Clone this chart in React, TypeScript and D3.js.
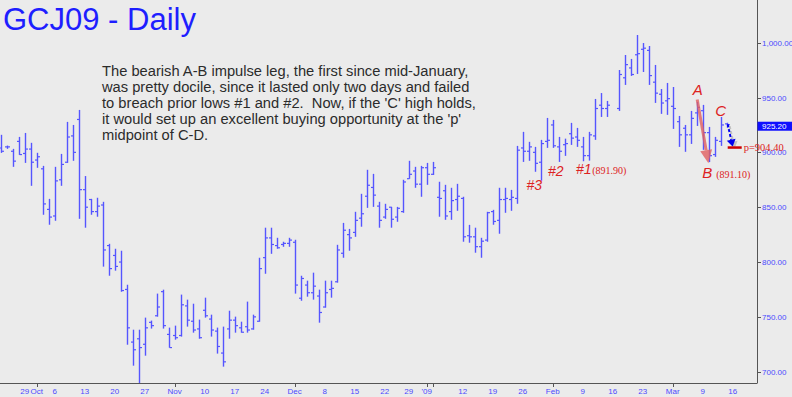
import React from "react";
import * as d3 from "d3";

// ---- data (GCJ09 daily OHLC) ----
const openP: (number | null)[] = [
  904, 905, 901, 910, 899, 903, 893, 885, 848, 842,
  875, 891, 915, 930, 866, 857, 846, 852, 815, 806,
  800, 775, 727, 730, 725, 745, 751, 773, 734, 733,
  733, 760, 746, 739, 756, 748, 737, 717, 739, 747,
  740, 741, 739, 746, 804, 822, 815, 816, 817, 818,
  767, 779, 772, 769, 759, 775, 782, 808, 825, 827,
  840, 860, 868, 851, 841, 850, 841, 846, 876, 883,
  871, 886, 880, 859, 865, 846, 857, 858, 824, 823,
  814, 820, 846, 838, 857, 857, 858, 904, 901, 900,
  891, 910, 925, 905, 907, 917, 914, 905, 897, 915,
  943, 940, null, 940, 968, 977, 989, 994, 993, 964,
  953, 947, 942, 928, 922, 916, 936, 938, 918, 898,
  910, 926,
];
const highP: (number | null)[] = [
  916.0, 906.2, 903.2, 914.1, 917.7, 908.7, 899.6, 887.7, 857.6, 886.8,
  898.6, 927.8, 925.0, 938.7, 878.4, 857.6, 858.6, 854.9, 816.6, 812.1,
  810.3, 779.3, 738.3, 738.3, 749.3, 746.6, 771.2, 774.8, 740.2, 742.0,
  770.3, 765.7, 762.0, 747.5, 767.5, 752.0, 740.2, 741.1, 755.6, 750.2,
  745.6, 763.9, 752.0, 803.9, 831.3, 831.3, 822.1, 818.5, 822.1, 820.3,
  787.5, 783.0, 790.3, 774.8, 783.0, 783.0, 815.7, 835.7, 830.2, 845.8,
  862.2, 884.1, 880.4, 854.9, 853.1, 850.3, 850.3, 875.0, 892.3, 886.8,
  887.7, 890.4, 891.3, 873.2, 870.4, 867.7, 871.3, 859.5, 833.9, 831.3,
  822.1, 845.8, 847.6, 867.7, 867.7, 865.8, 905.9, 918.7, 909.6, 905.0,
  911.4, 931.4, 929.6, 914.1, 912.5, 926.9, 922.3, 914.1, 918.7, 948.7,
  954.1, 946.9, null, 975.1, 988.8, 985.2, 1007.0, 999.7, 997.0, 979.7,
  957.8, 963.3, 959.6, 933.2, 925.0, 937.8, 946.0, 943.3, 923.2, 914.1,
  932.3, 927.0,
];
const lowP: (number | null)[] = [
  899.5, 903.2, 886.8, 897.7, 890.4, 869.5, 885.9, 843.1, 834.0, 837.6,
  869.5, 890.4, 892.3, 839.4, 831.3, 843.1, 841.3, 795.8, 787.5, 792.1,
  772.9, 724.6, 705.5, 686.0, 714.6, 739.3, 750.2, 739.3, 721.9, 729.2,
  732.0, 741.1, 735.6, 730.1, 749.3, 732.0, 716.5, 704.6, 730.1, 735.6,
  735.6, 735.6, 738.3, 745.6, 789.3, 807.5, 812.1, 813.9, 813.9, 771.2,
  764.7, 768.4, 765.7, 744.7, 758.4, 767.5, 781.2, 803.9, 810.3, 823.0,
  832.2, 849.4, 850.3, 831.3, 839.4, 831.3, 836.7, 844.9, 875.9, 867.7,
  859.5, 870.4, 879.4, 841.3, 838.5, 838.5, 846.7, 818.5, 817.6, 808.5,
  803.9, 818.5, 834.0, 825.8, 844.9, 846.7, 853.1, 891.3, 892.3, 882.3,
  874.1, 904.1, 904.1, 891.3, 896.8, 906.8, 905.0, 891.9, 892.5, 911.4,
  932.3, 932.3, null, 937.8, 961.5, 969.7, 971.5, 973.3, 961.5, 945.1,
  935.1, 934.2, 921.4, 905.0, 900.5, 907.7, 924.1, 902.3, 891.1, 895.9,
  905.9, 922.5,
];
const closeP: (number | null)[] = [
  901, 905, 892, 898, 903, 891, 896, 853, 841, 874,
  889, 914, 900, 866, 850, 846, 851, 811, 794, 796,
  774, 740, 720, 722, 740, 742, 759, 742, 722, 731,
  761, 747, 738, 731, 751, 738, 723, 709, 747, 742,
  736, 738, 750, 794, 822, 816, 813, 817, 820, 779,
  785, 772, 778, 754, 772, 776, 811, 829, 822, 838,
  844, 870, 861, 838, 848, 839, 849, 873, 880, 871,
  886, 880, 886, 858, 842, 856, 860, 823, 823, 814,
  819, 845, 837, 857, 858, 859, 902, 901, 905, 890,
  908, 911, 906, 901, 908, 913, 911, 897, 916, 940,
  940, 943, null, 971, 980, 971, 990, 995, 970, 954,
  945, 949, 940, 916, 916, 931, 941, 918, 897, 911,
  925, 925.2,
];

// axis labels
const priceTicks = [700, 750, 800, 850, 900, 950, 1000];
const dateTickDays = [
  "2008-09-29", "2008-10-01", "2008-10-06", "2008-10-13", "2008-10-20", "2008-10-27",
  "2008-11-03", "2008-11-10", "2008-11-17", "2008-11-24", "2008-12-01", "2008-12-08",
  "2008-12-15", "2008-12-22", "2008-12-29", "2009-01-02", "2009-01-12", "2009-01-19",
  "2009-01-26", "2009-02-02", "2009-02-09", "2009-02-16", "2009-02-23", "2009-03-02",
  "2009-03-09", "2009-03-16",
];
const dateTickLabels = [
  "29", "Oct", "6", "13", "20", "27", "Nov", "10", "17", "24", "Dec", "8",
  "15", "22", "29", "'09", "12", "19", "26", "Feb", "9", "16", "23", "Mar", "9", "16",
];
const majorTickDays = ["2008-10-01", "2008-11-03", "2008-12-01", "2009-01-02", "2009-01-05", "2009-02-02", "2009-03-02"];

const titleText = "GCJ09 - Daily";
const commentLines = [
  "The bearish A-B impulse leg, the first since mid-January,",
  "was pretty docile, since it lasted only two days and failed",
  "to breach prior lows #1 and #2.  Now, if the 'C' high holds,",
  "it would set up an excellent buying opportunity at the 'p'",
  "midpoint of C-D.",
];
const lastClose = 925.2;
const pLevel = 904.4;
const bLow = 891.1;
const low1 = 891.9;

// trading-day categories (holidays Dec 25 / Jan 1 have no slot)
const fmt = d3.timeFormat("%Y-%m-%d");
const skipDays = ["2008-12-25", "2009-01-01"];
const days: string[] = d3.timeDay
  .range(new Date(2008, 8, 23), new Date(2009, 2, 17))
  .filter((d) => d.getDay() !== 0 && d.getDay() !== 6)
  .map((d) => fmt(d))
  .filter((s) => !skipDays.includes(s));

const W = 792;
const H = 397;
const AXIS_X = 757;
const AXIS_Y = 383;

export default function App() {
  const x = d3.scaleLinear().domain([0, 122]).range([0.7, 732.7]);
  const y = d3.scaleLinear().domain([700, 1000]).range([371.7, 42.7]);
  const di = (s: string) => days.indexOf(s);
  const blue = "#5555ff";
  const red = "#dd2222";
  const sans = "'Liberation Sans', Arial, sans-serif";
  const serif = "'Liberation Serif', 'Times New Roman', serif";

  const bars = openP.map((o, i) => {
    const h = highP[i], l = lowP[i], c = closeP[i];
    if (o == null || h == null || l == null || c == null) return null;
    const xi = Math.round(x(i)) + 0.5;
    return (
      <g key={i}>
        <line x1={xi} x2={xi} y1={y(h)} y2={y(l)} stroke={blue} strokeWidth={1.4} />
        <line x1={xi - 2.5} x2={xi} y1={y(o)} y2={y(o)} stroke={blue} strokeWidth={1.2} />
        <line x1={xi} x2={xi + 2.5} y1={y(c)} y2={y(c)} stroke={blue} strokeWidth={1.2} />
      </g>
    );
  });

  // annotation anchors
  const ax = x(116), ay = y(highP[116] as number);
  const bx = x(118), by = y(bLow);
  const cx = x(120), cy = y(highP[120] as number);
  const lx = x(121);
  const py = y(pLevel);

  // red A->B arrow geometry
  const sx = ax + 0.5, sy = ay - 2.5;
  const tx = bx - 0.3, ty = by + 1;
  const ang = Math.atan2(ty - sy, tx - sx);
  const headL = 13, headW = 6;
  const hbx = tx - headL * Math.cos(ang), hby = ty - headL * Math.sin(ang);
  const nx = -Math.sin(ang), ny = Math.cos(ang);
  const redHead = [[tx, ty], [hbx + nx * headW, hby + ny * headW], [hbx - nx * headW, hby - ny * headW]];

  // blue dashed arrow C->p
  const dsx = lx + 1, dsy = y(lastClose) - 0.5;
  const dtx = lx + 6, dty = py - 1;
  const dang = Math.atan2(dty - dsy, dtx - dsx);
  const dhl = 7, dhw = 4.5;
  const dbx = dtx - dhl * Math.cos(dang), dby = dty - dhl * Math.sin(dang);
  const dnx = -Math.sin(dang), dny = Math.cos(dang);
  const blueHead = (ox: number, oy: number) =>
    d3.line()([[dtx + ox, dty + oy], [dbx + dnx * dhw + ox, dby + dny * dhw + oy], [dbx - dnx * dhw + ox, dby - dny * dhw + oy]]) + "Z";

  return (
    <svg
      width={W}
      height={H}
      style={{ position: "absolute", left: 0, top: 0, background: "#ebebeb" }}
    >
      <defs>
        <clipPath id="plot">
          <rect x={0} y={0} width={AXIS_X} height={AXIS_Y} />
        </clipPath>
      </defs>
      <rect x={0} y={0} width={W} height={H} fill="#ebebeb" />

      {/* title */}
      <text x={3} y={30} fontFamily={sans} fontSize={31} fill="#1e1eff">{titleText}</text>

      {/* comment */}
      {commentLines.map((t, i) => (
        <text key={i} x={102} y={76 + i * 16} fontFamily={sans} fontSize={14.7} fill="#2b2b2b" style={{ whiteSpace: "pre" }}>{t}</text>
      ))}

      {/* bars */}
      <g clipPath="url(#plot)">{bars}</g>

      {/* axes */}
      <line x1={AXIS_X + 0.5} x2={AXIS_X + 0.5} y1={0} y2={AXIS_Y} stroke="#555" strokeWidth={1} />
      <line x1={0} x2={AXIS_X + 0.5} y1={AXIS_Y + 0.5} y2={AXIS_Y + 0.5} stroke="#555" strokeWidth={1} />
      {priceTicks.map((p) => (
        <g key={p}>
          <line x1={AXIS_X} x2={AXIS_X + 4} y1={Math.round(y(p)) + 0.5} y2={Math.round(y(p)) + 0.5} stroke="#555" />
          <text x={AXIS_X + 5} y={y(p) + 3} fontFamily={sans} fontSize={8} fill="#4a4aff">{d3.format(",.2f")(p)}</text>
        </g>
      ))}
      {majorTickDays.map((s) => (
        <line key={s} x1={Math.round(x(di(s))) + 0.5} x2={Math.round(x(di(s))) + 0.5} y1={AXIS_Y} y2={AXIS_Y + 4} stroke="#555" />
      ))}
      {dateTickDays.map((s, i) => (
        <text key={s} x={x(di(s))} y={394} textAnchor="middle" fontFamily={sans} fontSize={8} fill="#4a4aff">{dateTickLabels[i]}</text>
      ))}

      {/* last price box */}
      <rect x={AXIS_X + 0.5} y={y(lastClose) - 3} width={W - AXIS_X} height={9} fill="#1010ff" />
      <text x={AXIS_X + 5} y={y(lastClose) + 4.5} fontFamily={sans} fontSize={8} fill="#fff">{d3.format(".2f")(lastClose)}</text>

      {/* red A-B arrow */}
      <line x1={sx} y1={sy} x2={hbx} y2={hby} stroke="rgba(225,95,95,0.8)" strokeWidth={3} />
      <path d={d3.line()(redHead as [number, number][]) + "Z"} fill="rgba(225,95,95,0.8)" />

      {/* blue dashed arrow with shadow */}
      <line x1={dsx + 2} y1={dsy + 2} x2={dbx + 2} y2={dby + 2} stroke="rgba(0,0,0,0.18)" strokeWidth={2} strokeDasharray="3,2" />
      <path d={blueHead(2, 2)} fill="rgba(0,0,0,0.18)" />
      <line x1={dsx} y1={dsy} x2={dbx} y2={dby} stroke="#0000ee" strokeWidth={2} strokeDasharray="3,2" />
      <path d={blueHead(0, 0)} fill="#0000ee" />

      {/* p line */}
      <line x1={lx + 1} x2={lx + 15} y1={py} y2={py} stroke="#cc0000" strokeWidth={2.5} />
      <text x={lx + 17} y={py + 3.5} fontFamily={serif} fontSize={10.5} fill={red}>{"p=" + d3.format(".2f")(pLevel)}</text>

      {/* letters */}
      <text x={ax + 1} y={ay - 7} textAnchor="middle" fontFamily={sans} fontStyle="italic" fontSize={15} fill={red}>A</text>
      <text x={cx} y={cy - 1} textAnchor="middle" fontFamily={sans} fontStyle="italic" fontSize={15} fill={red}>C</text>
      <text x={bx - 1.5} y={by + 16} textAnchor="middle" fontFamily={sans} fontStyle="italic" fontSize={15} fill={red}>B</text>
      <text x={bx + 7.5} y={by + 15.5} fontFamily={serif} fontSize={10} fill={red}>{"(" + d3.format(".2f")(bLow) + ")"}</text>

      <text x={x(90) - 6.5} y={y(lowP[90] as number) + 9} textAnchor="middle" fontFamily={sans} fontStyle="italic" fontSize={14} fill={red}>#3</text>
      <text x={x(93) - 3} y={y(lowP[93] as number) + 14.5} textAnchor="middle" fontFamily={sans} fontStyle="italic" fontSize={14} fill={red}>#2</text>
      <text x={x(98) - 5} y={y(low1) + 13} textAnchor="middle" fontFamily={sans} fontStyle="italic" fontSize={14} fill={red}>#1</text>
      <text x={x(98) + 3.5} y={y(low1) + 13} fontFamily={serif} fontSize={10} fill={red}>{"(" + d3.format(".2f")(low1) + ")"}</text>
    </svg>
  );
}
